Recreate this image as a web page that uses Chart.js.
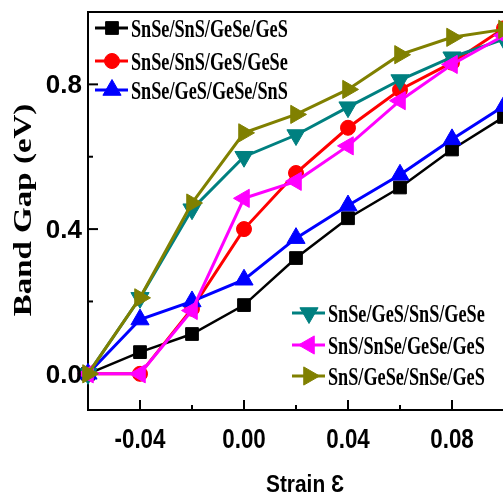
<!DOCTYPE html>
<html>
<head>
<meta charset="utf-8">
<script src="https://cdn.jsdelivr.net/npm/chart.js@4.4.1/dist/chart.umd.min.js"></script>
<style>
  html, body { margin: 0; padding: 0; background: #fff; overflow: hidden; }
  #wrap { width: 510px; height: 497px; }
</style>
</head>
<body>
<div id="wrap"><canvas id="chartGap" width="510" height="497"></canvas></div>
<script>
// Strain values (x) and band gaps (eV)
const strain = [-0.06, -0.04, -0.02, 0.00, 0.02, 0.04, 0.06, 0.08, 0.10];

const seriesNames = [
  "SnSe/SnS/GeSe/GeS",
  "SnSe/SnS/GeS/GeSe",
  "SnSe/GeS/GeSe/SnS",
  "SnSe/GeS/SnS/GeSe",
  "SnS/SnSe/GeSe/GeS",
  "SnS/GeSe/SnSe/GeS"
];

const gapSnSe_SnS_GeSe_GeS = [0, 0.06, 0.11, 0.19, 0.32, 0.43, 0.515, 0.62, 0.71];
const gapSnSe_SnS_GeS_GeSe = [0, 0, 0.18, 0.40, 0.555, 0.68, 0.785, 0.86, 0.955];
const gapSnSe_GeS_GeSe_SnS = [0, 0.15, 0.20, 0.26, 0.375, 0.465, 0.55, 0.648, 0.74];
const gapSnSe_GeS_SnS_GeSe = [0, 0.21, 0.455, 0.60, 0.66, 0.737, 0.812, 0.875, 0.925];
const gapSnS_SnSe_GeSe_GeS = [0, 0, 0.175, 0.485, 0.532, 0.63, 0.755, 0.855, 0.935];
const gapSnS_GeSe_SnSe_GeS = [0, 0.21, 0.472, 0.666, 0.717, 0.786, 0.882, 0.93, 0.952];

const xTicks = [-0.06, -0.04, -0.02, 0.00, 0.02, 0.04, 0.06, 0.08, 0.10];
const xTickLabels = ["", "-0.04", "", "0.00", "", "0.04", "", "0.08", ""];
const yTicks = [0.0, 0.2, 0.4, 0.6, 0.8];
const yTickLabels = ["0.0", "", "0.4", "", "0.8"];

const xTitle = "Strain \u0190";
const yTitle = "Band Gap (eV)";

// Origin-like styles
const colors = ["#000000", "#ff0000", "#0000ff", "#008080", "#ff00ff", "#808000"];
const markers = [
  { pointStyle: "rect", radius: 9, rotation: 0 },
  { pointStyle: "circle", radius: 7.5, rotation: 0 },
  { pointStyle: "triangle", radius: 10.5, rotation: 0 },
  { pointStyle: "triangle", radius: 10.5, rotation: 180 },
  { pointStyle: "triangle", radius: 10.5, rotation: 270 },
  { pointStyle: "triangle", radius: 10.5, rotation: 90 }
];

const allGaps = [
  gapSnSe_SnS_GeSe_GeS,
  gapSnSe_SnS_GeS_GeSe,
  gapSnSe_GeS_GeSe_SnS,
  gapSnSe_GeS_SnS_GeSe,
  gapSnS_SnSe_GeSe_GeS,
  gapSnS_GeSe_SnSe_GeS
];

const datasets = allGaps.map((vals, i) => ({
  label: seriesNames[i],
  data: vals.map((v, k) => ({ x: strain[k], y: v })),
  borderColor: colors[i],
  backgroundColor: colors[i],
  pointBackgroundColor: colors[i],
  pointBorderColor: colors[i],
  pointBorderWidth: 1,
  borderWidth: i === 0 ? 2.5 : 3,
  pointStyle: markers[i].pointStyle,
  pointRadius: markers[i].radius,
  pointRotation: markers[i].rotation,
  tension: 0,
  clip: false,
  order: allGaps.length - i // later series on top, like Origin
}));

// small helper: text with separate x/y stretch
function stretchText(ctx, text, x, y, font, sx, sy, align, rot) {
  ctx.save();
  ctx.translate(x, y);
  if (rot) ctx.rotate(rot);
  ctx.scale(sx, sy);
  ctx.font = font;
  ctx.textAlign = align;
  ctx.textBaseline = "alphabetic";
  ctx.fillStyle = "#000";
  ctx.fillText(text, 0, 0);
  ctx.restore();
}

const framePlugin = {
  id: "frame",
  beforeDatasetsDraw(chart) {
    const { ctx, chartArea: a, scales } = chart;
    ctx.save();
    ctx.strokeStyle = "#000";
    ctx.lineWidth = 2;
    ctx.strokeRect(a.left, a.top, a.right - a.left, a.bottom - a.top);

    // inward ticks
    ctx.lineWidth = 2;
    xTicks.forEach((v, i) => {
      const px = scales.x.getPixelForValue(v);
      const len = xTickLabels[i] ? 10 : 5;
      ctx.beginPath();
      ctx.moveTo(px, a.bottom);
      ctx.lineTo(px, a.bottom - len);
      ctx.stroke();
    });
    yTicks.forEach((v, i) => {
      const py = scales.y.getPixelForValue(v);
      const len = yTickLabels[i] ? 10 : 5;
      ctx.beginPath();
      ctx.moveTo(a.left, py);
      ctx.lineTo(a.left + len, py);
      ctx.stroke();
    });
    ctx.restore();
  },
  afterDraw(chart) {
    const { ctx, chartArea: a, scales } = chart;

    // tick labels
    xTicks.forEach((v, i) => {
      if (!xTickLabels[i]) return;
      const px = scales.x.getPixelForValue(v);
      stretchText(ctx, xTickLabels[i], px, a.bottom + 38, "bold 28px 'Liberation Sans', Arial, sans-serif", 0.8, 1, "center");
    });
    yTicks.forEach((v, i) => {
      if (!yTickLabels[i]) return;
      const py = scales.y.getPixelForValue(v);
      stretchText(ctx, yTickLabels[i], a.left - 6, py + 9, "bold 26px 'Liberation Sans', Arial, sans-serif", 1, 1, "right");
    });

    // axis titles
    stretchText(ctx, xTitle, 305, 492, "bold 24px 'Liberation Sans', Arial, sans-serif", 0.87, 1, "center");
    stretchText(ctx, yTitle, 31, 210, "bold 33px 'Liberation Serif', 'Times New Roman', serif", 1, 0.75, "center", -Math.PI / 2);

    // two legend boxes, as in the figure
    const groups = [
      { idx: [0, 1, 2], x0: 95, rows: [28, 61, 90] },
      { idx: [3, 4, 5], x0: 292, rows: [313, 345, 376] }
    ];
    groups.forEach(g => {
      g.idx.forEach((di, r) => {
        const y = g.rows[r];
        const ds = chart.data.datasets[di];
        ctx.save();
        ctx.strokeStyle = ds.borderColor;
        ctx.fillStyle = ds.borderColor;
        ctx.lineWidth = 3;
        ctx.beginPath();
        ctx.moveTo(g.x0, y);
        ctx.lineTo(g.x0 + 33, y);
        ctx.stroke();
        ctx.lineWidth = 1;
        Chart.helpers.drawPoint(ctx, {
          pointStyle: ds.pointStyle,
          rotation: ds.pointRotation,
          radius: ds.pointRadius,
          borderWidth: 1
        }, g.x0 + 17, y);
        ctx.restore();
        stretchText(ctx, ds.label, g.x0 + 36, y + 8.5, "bold 26px 'Liberation Serif', 'Times New Roman', serif", 0.7, 1, "left");
      });
    });
  }
};

new Chart(document.getElementById("chartGap"), {
  type: "line",
  data: { datasets },
  options: {
    responsive: false,
    animation: false,
    events: [],
    layout: { autoPadding: false, padding: { top: 12, right: 6, left: 0, bottom: 0 } },
    plugins: {
      legend: { display: false },
      tooltip: { enabled: false }
    },
    scales: {
      x: {
        type: "linear",
        min: -0.06,
        max: 0.10,
        grid: { display: false },
        border: { display: false },
        ticks: { display: false },
        afterFit: (s) => { s.height = 87; }
      },
      y: {
        type: "linear",
        min: -0.1,
        max: 1.0,
        grid: { display: false },
        border: { display: false },
        ticks: { display: false },
        afterFit: (s) => { s.width = 88; }
      }
    }
  },
  plugins: [framePlugin]
});
</script>
</body>
</html>
